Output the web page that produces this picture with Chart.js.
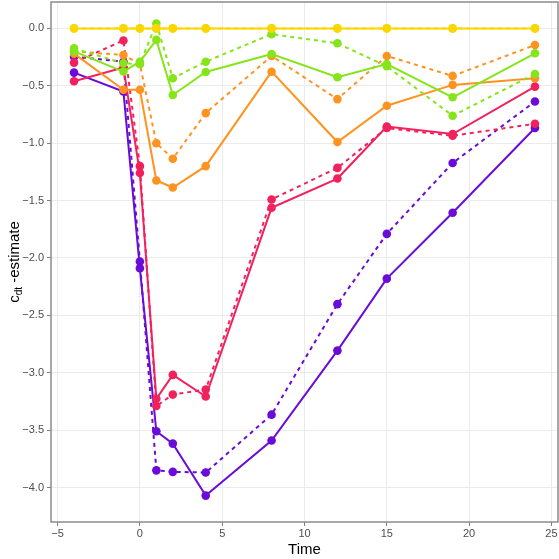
<!DOCTYPE html>
<html>
<head>
<meta charset="utf-8">
<script src="https://cdn.jsdelivr.net/npm/chart.js@4.4.1/dist/chart.umd.min.js"></script>
<style>
  html, body { margin: 0; padding: 0; background: #fff; }
  #wrap { width: 559px; height: 559px; }
</style>
</head>
<body>
<div id="wrap"><canvas id="chart" width="559" height="559"></canvas></div>
<script>
// ---------------------------------------------------------------------------
// Data
// ---------------------------------------------------------------------------
const TIMES = [-4, -1, 0, 1, 2, 4, 8, 12, 15, 19, 24];

const yellowSolid  = [0, 0, 0, 0, 0, 0, 0, 0, 0, 0, 0];
const yellowDashed = [0, 0, 0, 0, 0, 0, 0, 0, 0, 0, 0];
const greenSolid   = [-0.20, -0.376, -0.29, -0.10, -0.58, -0.38, -0.223, -0.425, -0.31, -0.60, -0.217];
const greenDashed  = [-0.174, -0.304, -0.31, 0.043, -0.434, -0.29, -0.05, -0.13, -0.33, -0.761, -0.397];
const orangeSolid  = [-0.22, -0.535, -0.535, -1.325, -1.386, -1.20, -0.377, -0.99, -0.674, -0.492, -0.434];
const orangeDashed = [-0.20, -0.232, -0.31, -1.00, -1.135, -0.738, -0.24, -0.616, -0.24, -0.414, -0.145];
const redSolid     = [-0.46, -0.34, -1.26, -3.227, -3.018, -3.207, -1.563, -1.308, -0.855, -0.92, -0.507];
const redDashed    = [-0.298, -0.105, -1.20, -3.29, -3.19, -3.146, -1.49, -1.215, -0.868, -0.935, -0.831];
const purpleSolid  = [-0.385, -0.55, -2.09, -3.51, -3.617, -4.07, -3.59, -2.807, -2.18, -1.606, -0.868];
const purpleDashed = [-0.246, -0.29, -2.03, -3.85, -3.863, -3.869, -3.365, -2.402, -1.79, -1.172, -0.637];

const X_TICKS = [-5, 0, 5, 10, 15, 20, 25];
const Y_TICKS = [0, -0.5, -1, -1.5, -2, -2.5, -3, -3.5, -4];

const X_TITLE = 'Time';
const Y_TITLE = ['c', 'dt', ' -estimate'];

// ---------------------------------------------------------------------------
// Colors / styles
// ---------------------------------------------------------------------------
const COLORS = {
    yellow: '#fad700',
    green:  '#86e51a',
    orange: '#ff931f',
    red:    '#f2205c',
    purple: '#6a0bd8',
};
const FONT = '"Liberation Sans", Arial, Helvetica, sans-serif';

function series(values, color, dashed) {
    return {
        data: TIMES.map((t, i) => ({ x: t, y: values[i] })),
        borderColor: color,
        backgroundColor: color,
        borderWidth: 2,
        borderDash: dashed ? [4, 4] : [],
        pointRadius: 4.3,
        pointBorderWidth: 0,
        pointBackgroundColor: color,
        fill: false,
        tension: 0,
    };
}

// dataset 0 is drawn on top in Chart.js
const datasets = [
    series(yellowSolid, COLORS.yellow, false),
    series(yellowDashed, COLORS.yellow, true),
    series(greenSolid, COLORS.green, false),
    series(greenDashed, COLORS.green, true),
    series(orangeSolid, COLORS.orange, false),
    series(orangeDashed, COLORS.orange, true),
    series(redSolid, COLORS.red, false),
    series(redDashed, COLORS.red, true),
    series(purpleSolid, COLORS.purple, false),
    series(purpleDashed, COLORS.purple, true),
];

const fmtNum = (v, digits) => {
    const s = Math.abs(v).toFixed(digits);
    return v < 0 ? '\u2212' + s : s;
};

// ---------------------------------------------------------------------------
// Plugins: panel border + axis titles
// ---------------------------------------------------------------------------
const panelBorder = {
    id: 'panelBorder',
    beforeDatasetsDraw(chart) {
        const { ctx, chartArea: a } = chart;
        ctx.save();
        ctx.strokeStyle = '#8c8c8c';
        ctx.lineWidth = 1.5;
        ctx.strokeRect(a.left, a.top, a.right - a.left, a.bottom - a.top);
        ctx.restore();
    },
};

const axisTitles = {
    id: 'axisTitles',
    afterDraw(chart) {
        const { ctx, chartArea: a } = chart;
        ctx.save();
        ctx.fillStyle = '#000';
        ctx.textBaseline = 'middle';

        // x title
        ctx.font = `15px ${FONT}`;
        ctx.textAlign = 'center';
        ctx.fillText(X_TITLE, (a.left + a.right) / 2, 550);

        // y title with subscript
        const big = `15px ${FONT}`, small = `10px ${FONT}`;
        ctx.font = big;
        const w0 = ctx.measureText(Y_TITLE[0]).width;
        const w2 = ctx.measureText(Y_TITLE[2]).width;
        ctx.font = small;
        const w1 = ctx.measureText(Y_TITLE[1]).width;
        const total = w0 + w1 + w2;

        ctx.translate(15, (a.top + a.bottom) / 2);
        ctx.rotate(-Math.PI / 2);
        ctx.textAlign = 'left';
        let x = -total / 2;
        ctx.font = big;
        ctx.fillText(Y_TITLE[0], x, 0);
        x += w0;
        ctx.font = small;
        ctx.fillText(Y_TITLE[1], x, 4);
        x += w1;
        ctx.font = big;
        ctx.fillText(Y_TITLE[2], x, 0);
        ctx.restore();
    },
};

// ---------------------------------------------------------------------------
// Chart
// ---------------------------------------------------------------------------
new Chart(document.getElementById('chart'), {
    type: 'line',
    data: { datasets },
    plugins: [panelBorder, axisTitles],
    options: {
        responsive: false,
        animation: false,
        layout: { autoPadding: false, padding: { top: 2, right: 1, left: 0, bottom: 0 } },
        plugins: {
            legend: { display: false },
            tooltip: { enabled: false },
        },
        scales: {
            x: {
                type: 'linear',
                min: -5.4,
                max: 25.4,
                afterBuildTicks: s => { s.ticks = X_TICKS.map(v => ({ value: v })); },
                afterFit: s => { s.height = 37; s.paddingLeft = 0; s.paddingRight = 0; },
                border: { display: false },
                grid: { color: '#ebebeb', lineWidth: 1, tickColor: '#7f7f7f', tickLength: 4 },
                ticks: {
                    font: { family: FONT, size: 11 },
                    color: '#4d4d4d',
                    padding: 1,
                    maxRotation: 0,
                    callback: v => fmtNum(v, 0),
                },
            },
            y: {
                type: 'linear',
                min: -4.30,
                max: 0.23,
                afterBuildTicks: s => { s.ticks = Y_TICKS.map(v => ({ value: v })); },
                afterFit: s => { s.width = 51; s.paddingTop = 0; s.paddingBottom = 0; },
                border: { display: false },
                grid: { color: '#ebebeb', lineWidth: 1, tickColor: '#7f7f7f', tickLength: 4 },
                ticks: {
                    font: { family: FONT, size: 11 },
                    color: '#4d4d4d',
                    padding: 3,
                    callback: v => fmtNum(v, 1),
                },
            },
        },
    },
});
</script>
</body>
</html>
